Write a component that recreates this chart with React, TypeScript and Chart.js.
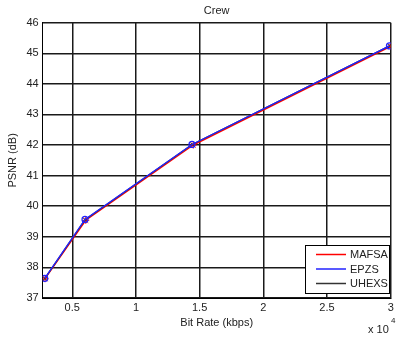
import React, { useEffect, useRef } from "react";
import { Chart, registerables } from "chart.js";

Chart.register(...registerables);

// Bit rate in kbps, PSNR in dB
const mafsaRate = [2865, 6060, 14500, 30020];
const mafsaPsnr = [37.63, 39.54, 42.0, 45.23];
const epzsRate = [2840, 6000, 14400, 29900];
const epzsPsnr = [37.64, 39.57, 42.02, 45.24];
const uhexsRate = [2850, 6010, 14420, 29920];
const uhexsPsnr = [37.64, 39.56, 42.02, 45.24];

const xTicks = [5000, 10000, 15000, 20000, 25000, 30000];
const yTicks = [37, 38, 39, 40, 41, 42, 43, 44, 45, 46];

const seriesNames = ["MAFSA", "EPZS", "UHEXS"];
const seriesColors = ["#ff0000", "#2222ff", "#333333"];

const FONT = "'Liberation Sans', Arial, sans-serif";

const toPoints = (xs: number[], ys: number[]) => xs.map((x, i) => ({ x, y: ys[i] }));

const textPlugin = {
  id: "matlabText",
  afterDraw(chart: any) {
    const { ctx, chartArea } = chart;
    const cx = (chartArea.left + chartArea.right) / 2;
    const cy = (chartArea.top + chartArea.bottom) / 2;
    ctx.save();
    ctx.fillStyle = "#222";
    ctx.font = `11px ${FONT}`;
    ctx.textAlign = "center";
    ctx.textBaseline = "middle";
    ctx.fillText("Crew", cx, 11);
    ctx.fillText("Bit Rate (kbps)", cx, 323);
    ctx.save();
    ctx.translate(13, cy);
    ctx.rotate(-Math.PI / 2);
    ctx.fillText("PSNR (dB)", 0, 0);
    ctx.restore();
    // exponent label
    ctx.textAlign = "left";
    ctx.fillText("x 10", 368, 330);
    ctx.font = `8px ${FONT}`;
    ctx.fillText("4", 391, 321);

    // legend box
    const lx = 305.5, ly = 245.5, lw = 84, lh = 48;
    ctx.fillStyle = "#fff";
    ctx.fillRect(lx, ly, lw, lh);
    ctx.strokeStyle = "#000";
    ctx.lineWidth = 1;
    ctx.strokeRect(lx, ly, lw, lh);
    ctx.font = `11px ${FONT}`;
    ctx.textBaseline = "middle";
    seriesNames.forEach((name, i) => {
      const yy = 254.5 + i * 14.5;
      ctx.strokeStyle = seriesColors[i];
      ctx.lineWidth = 1.5;
      ctx.beginPath();
      ctx.moveTo(316, yy);
      ctx.lineTo(346, yy);
      ctx.stroke();
      ctx.fillStyle = "#222";
      ctx.fillText(name, 350, yy + 0.5);
    });
    ctx.restore();
  },
};

export default function App() {
  const ref = useRef<HTMLCanvasElement>(null);

  useEffect(() => {
    if (!ref.current) return;
    const chart = new Chart(ref.current, {
      type: "scatter",
      data: {
        datasets: [
          {
            label: seriesNames[0],
            data: toPoints(mafsaRate, mafsaPsnr),
            borderColor: seriesColors[0],
            backgroundColor: "transparent",
            showLine: true,
            borderWidth: 1.3,
            pointStyle: "star",
            pointRadius: 3.5,
            pointBorderColor: seriesColors[0],
            pointBorderWidth: 1,
            order: 2,
          },
          {
            label: seriesNames[2],
            data: toPoints(uhexsRate, uhexsPsnr),
            borderColor: seriesColors[2],
            backgroundColor: "transparent",
            showLine: true,
            borderWidth: 1.3,
            pointStyle: "crossRot",
            pointRadius: 3,
            pointBorderColor: seriesColors[2],
            pointBorderWidth: 1,
            order: 1,
          },
          {
            label: seriesNames[1],
            data: toPoints(epzsRate, epzsPsnr),
            borderColor: seriesColors[1],
            backgroundColor: "transparent",
            showLine: true,
            borderWidth: 1.3,
            pointStyle: "circle",
            pointRadius: 3,
            pointBorderColor: seriesColors[1],
            pointBorderWidth: 1.2,
            order: 0,
          },
        ],
      },
      options: {
        animation: false,
        responsive: false,
        devicePixelRatio: 1,
        layout: { padding: { top: 22.7, right: 10.3, left: 0, bottom: 0 } },
        plugins: { legend: { display: false }, tooltip: { enabled: false }, title: { display: false } },
        scales: {
          x: {
            type: "linear",
            min: 2680,
            max: 30000,
            afterBuildTicks: (s: any) => {
              s.ticks = xTicks.map((v) => ({ value: v }));
            },
            afterFit: (s: any) => {
              s.height = 40;
            },
            ticks: {
              color: "#222",
              font: { family: FONT, size: 11 },
              padding: 3,
              maxRotation: 0,
              callback: (v: any) => String(Number(v) / 10000),
            },
            grid: { color: "#1a1a1a", lineWidth: 1.5, drawTicks: false },
            border: { color: "#000", width: 1 },
          },
          y: {
            type: "linear",
            min: 37,
            max: 46,
            afterBuildTicks: (s: any) => {
              s.ticks = yTicks.map((v) => ({ value: v }));
            },
            afterFit: (s: any) => {
              s.width = 42.7;
            },
            ticks: {
              color: "#222",
              font: { family: FONT, size: 11 },
              padding: 4,
            },
            grid: { color: "#1a1a1a", lineWidth: 1.5, drawTicks: false },
            border: { color: "#000", width: 1 },
          },
        },
      },
      plugins: [textPlugin],
    } as any);
    return () => chart.destroy();
  }, []);

  return (
    <div style={{ position: "fixed", left: 0, top: 0, width: 401, height: 338, background: "#fff" }}>
      <canvas ref={ref} width={401} height={338} style={{ width: 401, height: 338 }} />
    </div>
  );
}
